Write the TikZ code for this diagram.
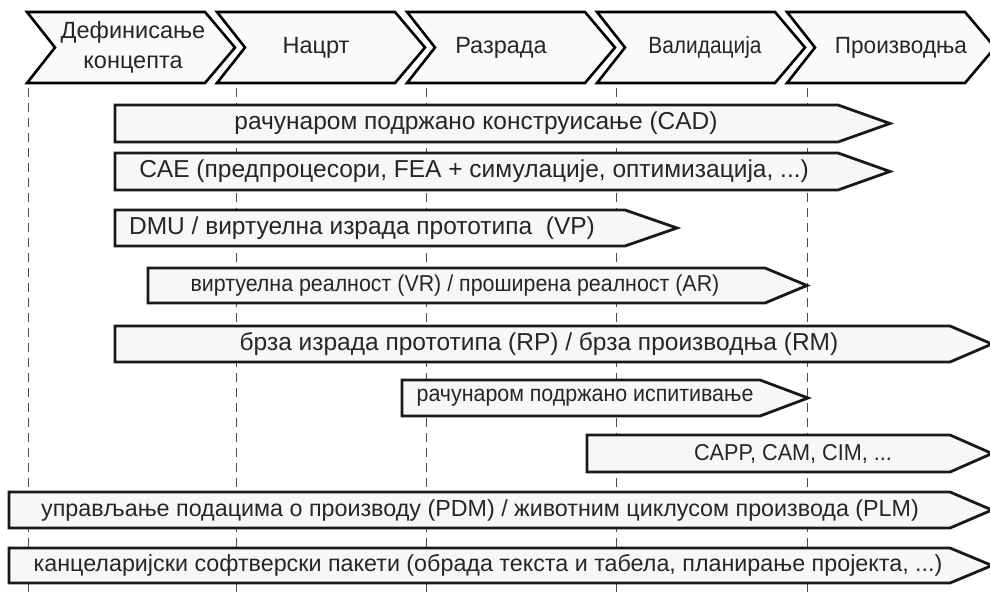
\documentclass[tikz,border=0pt]{standalone}
\usepackage{fontspec}
\setmainfont{Liberation Sans}
\newcommand\sqz[2]{\scalebox{#1}[1]{#2}}
\begin{document}
\begin{tikzpicture}[x=1pt,y=-1pt,
  chevline/.style={draw=black,line width=2.6pt,fill=white!98!black,line join=miter},
  barline/.style={draw=black!90,line width=2.8pt,fill=white!97!black,line join=miter},
  guide/.style={draw=black!70,line width=0.9pt,dash pattern=on 9pt off 6pt},
  headtext/.style={font=\fontsize{23.5}{30}\selectfont,text=black!85,align=center,inner sep=0pt},
  bartext/.style={font=\fontsize{24.5}{28}\selectfont,text=black!85,inner sep=0pt},
  bartextb/.style={font=\fontsize{23.3}{28}\selectfont,text=black!85,inner sep=0pt},
  bartextc/.style={font=\fontsize{23}{28}\selectfont,text=black!85,inner sep=0pt}]
\useasboundingbox (0,0) rectangle (990,597);
% guide lines
\foreach \gx/\nm in {28/g0,236/g1,426/g2,616/g3,807/g4}{
  \coordinate (\nm t) at (\gx,88);
  \coordinate (\nm b) at (\gx,597);
  \draw[guide] (\nm t) -- (\nm b);
}
% header chevrons
\foreach \i in {0,...,4}{
  \pgfmathsetmacro{\xo}{27+190*\i}
  \draw[chevline] (\xo,12) -- (\xo+178,12) -- (\xo+208,47.5) -- (\xo+178,83) -- (\xo,83) -- (\xo+28,47.5) -- cycle;
}
\node[headtext] (h1) at (133,47.5) {Дефинисање\\концепта};
\node[headtext] (h2) at (316,47.5) {Нацрт};
\node[headtext] (h3) at (501,47.5) {Разрада};
\node[headtext] (h4) at (705,47.5) {\sqz{0.89}{Валидација}};
\node[headtext] (h5) at (901,47.5) {\sqz{0.96}{Производња}};
% bars
\newcommand\arrbar[5]{\draw[barline] (#1,#2) -- (#4,#2) -- (#5,{(#2+#3)/2}) -- (#4,#3) -- (#1,#3) -- cycle;}
\arrbar{115}{105}{142}{838}{890}
\node[bartext] (cad) at (476,123.5) {рачунаром подржано конструисање (CAD)};
\arrbar{115}{153}{190}{838}{890}
\node[bartext] (cae) at (474,171.5) {CAE (предпроцесори, FEA + симулације, оптимизација, ...)};
\arrbar{115}{210}{246}{625}{677}
\node[bartext] (dmu) at (362,228) {DMU / виртуелна израда прототипа\ \ (VP)};
\arrbar{148}{268}{303}{765}{807}
\node[bartextc] (vr) at (455,285.5) {\sqz{0.93}{виртуелна реалност (VR) / проширена реалност (AR)}};
\arrbar{115}{326}{362}{950}{992}
\node[bartext] (rp) at (539,344) {брза израда прототипа (RP) / брза производња (RM)};
\arrbar{402}{380}{416}{760}{808}
\node[bartextc] (ct) at (585,398) {\sqz{0.93}{рачунаром подржано испитивање}};
\arrbar{587}{435}{472}{950}{992}
\node[bartextc] (capp) at (793,453.5) {\sqz{0.94}{CAPP, CAM, CIM, ...}};
\arrbar{9}{492}{528}{950}{992}
\node[bartextb] (pdm) at (480,510) {управљање подацима о производу (PDM) / животним циклусом производа (PLM)};
\arrbar{9}{548}{583}{950}{992}
\node[bartextb] (off) at (488,565.5) {канцеларијски софтверски пакети (обрада текста и табела, планирање пројекта, ...)};
\end{tikzpicture}
\end{document}
